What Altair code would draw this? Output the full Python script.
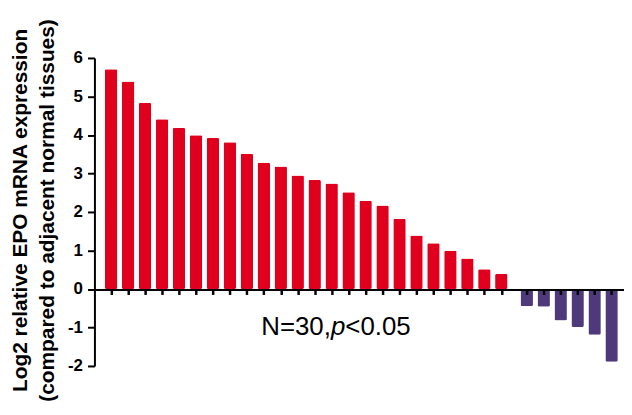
import altair as alt
import pandas as pd

# Log2 relative EPO mRNA expression per sample
up_values = [5.71, 5.39, 4.83, 4.41, 4.18, 3.99, 3.92, 3.81, 3.51, 3.28, 3.18, 2.95,
             2.83, 2.74, 2.51, 2.29, 2.17, 1.82, 1.39, 1.19, 0.99, 0.79, 0.51, 0.39]
down_values = [-0.45, -0.46, -0.82, -0.99, -1.19, -1.89]
y_ticks = [-2, -1, 0, 1, 2, 3, 4, 5, 6]
title_lines = ["Log2 relative EPO mRNA expression", "(compared to adjacent normal tissues)"]
note_parts = ["N=30,", "p", "<0.05"]

values = up_values + down_values
groups = ["up"] * len(up_values) + ["down"] * len(down_values)
# sample order; the down-regulated group is set off by half a slot
pos = [i + 1 + (0.5 if g == "down" else 0.0) for i, g in enumerate(groups)]
df = pd.DataFrame({"pos": pos, "value": values, "group": groups})

RED = "#E0001E"
PURPLE = "#4E3A7B"

x = alt.X(
    "pos:Q",
    scale=alt.Scale(domain=[0.31, 30.94], nice=False, zero=False),
    axis=alt.Axis(
        values=pos, labels=False, title=None, grid=False,
        offset=-77, tickSize=5, tickWidth=2.5, tickColor="black",
        domainColor="black", domainWidth=2, zindex=1,
    ),
)
y = alt.Y(
    "value:Q",
    scale=alt.Scale(domain=[-2, 6], nice=False),
    axis=alt.Axis(
        values=y_ticks, grid=False, title=title_lines,
        labelExpr="'' + datum.value",
        labelFont="Liberation Sans", labelFontSize=17, labelFontWeight="bold",
        labelColor="black", labelPadding=5,
        tickSize=7, tickWidth=2, tickColor="black",
        domainColor="black", domainWidth=2,
        titleFont="Liberation Sans", titleFontSize=21, titleFontWeight="bold",
        titleColor="black", titleLineHeight=27, titleAngle=270,
        titleBaseline="middle", titleAlign="center", titleX=-74, titleY=153,
        zindex=1,
    ),
)

bars = alt.Chart(df).mark_bar(width=12.5, cornerRadius=1.5).encode(
    x=x,
    y=y,
    color=alt.Color("group:N", scale=alt.Scale(domain=["up", "down"], range=[RED, PURPLE]), legend=None),
)

note_df = pd.DataFrame({"t": note_parts})
base_text = alt.Chart(note_df)
t1 = base_text.transform_filter(alt.datum.t == note_parts[0]).mark_text(
    font="Liberation Sans", fontSize=26, align="right", baseline="alphabetic", color="black"
).encode(text="t:N", x=alt.value(238), y=alt.value(279))
t2 = base_text.transform_filter(alt.datum.t == note_parts[1]).mark_text(
    font="Liberation Sans", fontSize=26, fontStyle="italic", align="left", baseline="alphabetic", color="black"
).encode(text="t:N", x=alt.value(238), y=alt.value(279))
t3 = base_text.transform_filter(alt.datum.t == note_parts[2]).mark_text(
    font="Liberation Sans", fontSize=26, align="left", baseline="alphabetic", color="black"
).encode(text="t:N", x=alt.value(252.5), y=alt.value(279))

chart = alt.layer(bars, t1, t2, t3).properties(
    width=533, height=310,
    autosize=alt.AutoSizeParams(type="none"),
    padding={"left": 87, "top": 49, "right": 0, "bottom": 40},
    background="white",
).configure_view(stroke=None)

chart.save("out.html", embed_options={"renderer": "svg", "actions": False})
